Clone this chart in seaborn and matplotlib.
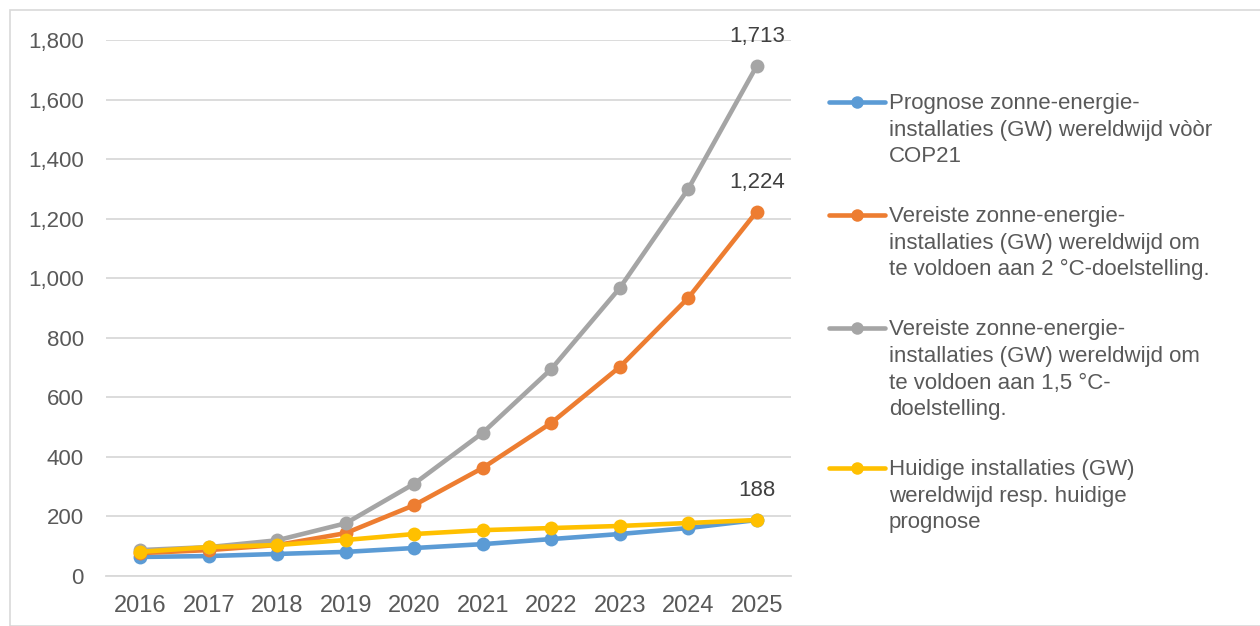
import matplotlib
matplotlib.use("Agg")
import matplotlib.pyplot as plt
import seaborn as sns
import pandas as pd
from matplotlib.patches import Rectangle
from matplotlib.ticker import FuncFormatter

years = [2016, 2017, 2018, 2019, 2020, 2021, 2022, 2023, 2024, 2025]
prognose_cop21 = [64, 67, 74, 81, 94, 107, 124, 141, 161, 188]
vereist_2c = [77, 87, 104, 144, 238, 363, 514, 702, 934, 1224]
vereist_15c = [87, 97, 120, 177, 310, 481, 695, 967, 1300, 1713]
huidig = [81, 97, 104, 121, 141, 154, 161, 168, 178, 188]

labels = [
    "Prognose zonne-energie-\ninstallaties (GW) wereldwijd vòòr\nCOP21",
    "Vereiste zonne-energie-\ninstallaties (GW) wereldwijd om\nte voldoen aan 2 °C-doelstelling.",
    "Vereiste zonne-energie-\ninstallaties (GW) wereldwijd om\nte voldoen aan 1,5 °C-\ndoelstelling.",
    "Huidige installaties (GW)\nwereldwijd resp. huidige\nprognose",
]
colors = ["#5B9BD5", "#ED7D31", "#A5A5A5", "#FFC000"]
yticks = [0, 200, 400, 600, 800, 1000, 1200, 1400, 1600, 1800]

sns.set_theme(style="white")
plt.rcParams["font.family"] = ["Liberation Sans", "DejaVu Sans"]
text_color = "#595959"

fig = plt.figure(figsize=(12.6, 6.26), dpi=100)
ax = fig.add_axes([106 / 1260, 1 - 576 / 626, (791 - 106) / 1260, (576 - 40) / 626])

series = [prognose_cop21, vereist_2c, vereist_15c, huidig]
rows = []
for lab, vals in zip(labels, series):
    for y, v in zip(years, vals):
        rows.append({"jaar": y, "waarde": v, "serie": lab})
df = pd.DataFrame(rows)

for i, (lab, col) in enumerate(zip(labels, colors)):
    sub = df[df["serie"] == lab]
    sns.lineplot(data=sub, x="jaar", y="waarde", ax=ax, color=col, linewidth=3.3,
                 marker="o", markersize=10, markeredgewidth=0, label=lab,
                 zorder=3 + i, sort=False)

# data labels at 2025 for the last three series
for vals in [vereist_15c, vereist_2c, huidig]:
    ax.annotate(f"{vals[-1]:,}", xy=(years[-1], vals[-1]), xytext=(0, 21),
                textcoords="offset points", ha="center", va="center",
                fontsize=16, color="#404040")

ax.set_xlim(years[0] - 0.5, years[-1] + 0.5)
ax.set_ylim(0, 1800)
ax.set_xticks(years)
ax.set_xticklabels([str(y) for y in years])
ax.set_yticks(yticks)
ax.yaxis.set_major_formatter(FuncFormatter(lambda v, p: f"{int(v):,}"))
ax.tick_params(axis="both", length=0, labelcolor=text_color)
ax.tick_params(axis="y", pad=16, labelsize=16)
ax.tick_params(axis="x", pad=14, labelsize=17)
ax.set_xlabel("")
ax.set_ylabel("")
ax.grid(axis="y", color="#D9D9D9", linewidth=1.3)
ax.grid(axis="x", visible=False)
for s in ["top", "right", "left"]:
    ax.spines[s].set_visible(False)
ax.spines["bottom"].set_color("#D9D9D9")
ax.spines["bottom"].set_linewidth(1.3)
ax.set_facecolor("white")

ax.get_legend().remove()
handles, labs = ax.get_legend_handles_labels()
leg = fig.legend(handles, labs, loc="upper left",
                 bbox_to_anchor=(829 / 1260, 1 - 93 / 626),
                 frameon=False, fontsize=16, labelcolor=text_color,
                 handlelength=2.5, handletextpad=0.2, handleheight=1.0,
                 labelspacing=1.75, borderpad=0, borderaxespad=0)
for h in leg.legend_handles:
    h.set_markersize(9)
    h.set_linewidth(3.3)
for t in leg.get_texts():
    t.set_linespacing(1.35)
for col in leg._legend_handle_box.get_children():
    for item in col.get_children():
        item.align = "top"

fig.patches.append(Rectangle((10 / 1260, 0), 1.0, 1 - 10 / 626,
                             transform=fig.transFigure, fill=False,
                             edgecolor="#D9D9D9", linewidth=1.2))

fig.savefig("out.png", dpi=100, facecolor="white")
